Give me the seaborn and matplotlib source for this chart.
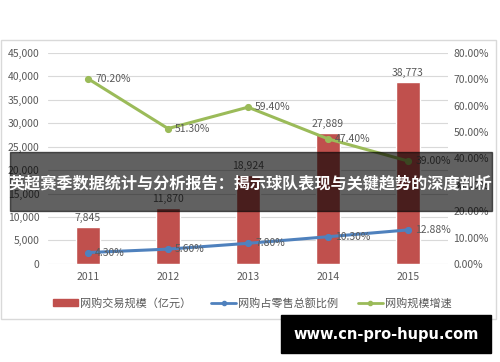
import numpy as np
import pandas as pd
import matplotlib
matplotlib.use('Agg')
import matplotlib.pyplot as plt
from matplotlib.patches import Rectangle, Patch
from matplotlib.lines import Line2D
import seaborn as sns

# data
years = ['2011', '2012', '2013', '2014', '2015']
trade_scale = [7845, 11870, 18924, 27889, 38773]          # 网购交易规模（亿元）
retail_share = [0.043, 0.056, 0.078, 0.103, 0.1288]       # 网购占零售总额比例
growth_rate = [0.702, 0.513, 0.594, 0.474, 0.390]         # 网购规模增速
share_labels = ['4.30%', '5.60%', '7.80%', '10.30%', '12.88%']
growth_labels = ['70.20%', '51.30%', '59.40%', '47.40%', '39.00%']
legend_names = ['网购交易规模（亿元）', '网购占零售总额比例', '网购规模增速']
title = '英超赛季数据统计与分析报告：揭示球队表现与关键趋势的深度剖析'
watermark = 'www.cn-pro-hupu.com'

sns.set_style('white')
plt.rcParams['font.family'] = ['Noto Sans CJK SC', 'DejaVu Sans']

red = '#C0504D'
blue = '#4F81BD'
green = '#9BBB59'
txt = '#595959'

df = pd.DataFrame({'year': years, 'scale': trade_scale,
                   'share': retail_share, 'growth': growth_rate})

fig = plt.figure(figsize=(5, 3.62), dpi=100)
ax = fig.add_axes([0.096, 0.271, 0.8, 0.583])

# outer chart border
fig.patches.append(Rectangle((0.002, 1 - 319 / 362), 0.99, (319 - 40) / 362,
                             transform=fig.transFigure, fill=False,
                             edgecolor='#d9d9d9', lw=1, zorder=0))

sns.barplot(data=df, x='year', y='scale', color=red, width=0.31,
            saturation=1, ax=ax, zorder=2)
ax.set_ylim(0, 45000)
ax.set_yticks(np.arange(0, 45001, 5000))
ax.set_yticklabels(['0'] + [f'{v:,}' for v in range(5000, 45001, 5000)])
ax.grid(axis='y', color='#d9d9d9', lw=0.8, zorder=0)
ax.set_axisbelow(True)
ax.set_xlabel('')
ax.set_ylabel('')
ax.tick_params(labelsize=7.5, colors=txt, length=0, pad=6)
for s in ax.spines.values():
    s.set_visible(False)
for i, v in enumerate(trade_scale):
    ax.text(i, v + 900, f'{v:,}', ha='center', va='bottom', fontsize=7.5, color=txt)

ax2 = ax.twinx()
sns.pointplot(data=df, x='year', y='share', color=blue, markers='o',
              markersize=3.5, linewidth=2.2, ax=ax2)
sns.pointplot(data=df, x='year', y='growth', color=green, markers='o',
              markersize=3.5, linewidth=2.2, ax=ax2)
ax2.set_ylim(0, 0.8)
ax2.set_yticks(np.arange(0, 0.81, 0.1))
ax2.set_yticklabels([f'{v:.2f}%' for v in np.arange(0, 80.1, 10)])
ax2.set_ylabel('')
ax2.set_xlabel('')
ax2.tick_params(labelsize=7.5, colors=txt, length=0, pad=4)
ax2.grid(False)
for s in ax2.spines.values():
    s.set_visible(False)
ax.set_xlim(-0.5, 4.5)
for i in range(len(years)):
    ax2.text(i + 0.09, retail_share[i], share_labels[i], ha='left', va='center',
             fontsize=7.5, color=txt)
    ax2.text(i + 0.09, growth_rate[i], growth_labels[i], ha='left', va='center',
             fontsize=7.5, color=txt)

handles = [Patch(color=red),
           Line2D([], [], color=blue, lw=2, marker='o', markersize=3),
           Line2D([], [], color=green, lw=2, marker='o', markersize=3)]
fig.legend(handles, legend_names, loc='center', bbox_to_anchor=(0.505, 0.163),
           ncol=3, frameon=False, fontsize=8, handlelength=2.2,
           handletextpad=0.2, columnspacing=1.8, labelcolor=txt)

# dark banner with title
fig.patches.append(Rectangle((10 / 500, 1 - 211 / 362), 482 / 500, 59 / 362,
                             transform=fig.transFigure, color='black',
                             alpha=0.62, zorder=10))
fig.text(0.5, 1 - 183 / 362, title, ha='center', va='center', color='white',
         fontsize=11.6, fontweight='bold', zorder=11)

# watermark box
fig.patches.append(Rectangle((281 / 500, 1 - 353 / 362), 210 / 500, 38 / 362,
                             transform=fig.transFigure, color='black', zorder=10))
fig.text(386 / 500, 1 - 334 / 362, watermark, ha='center', va='center',
         color='white', fontsize=10.5, fontweight='bold',
         family=['DejaVu Sans'], zorder=11)

fig.savefig('out.png', dpi=100)
